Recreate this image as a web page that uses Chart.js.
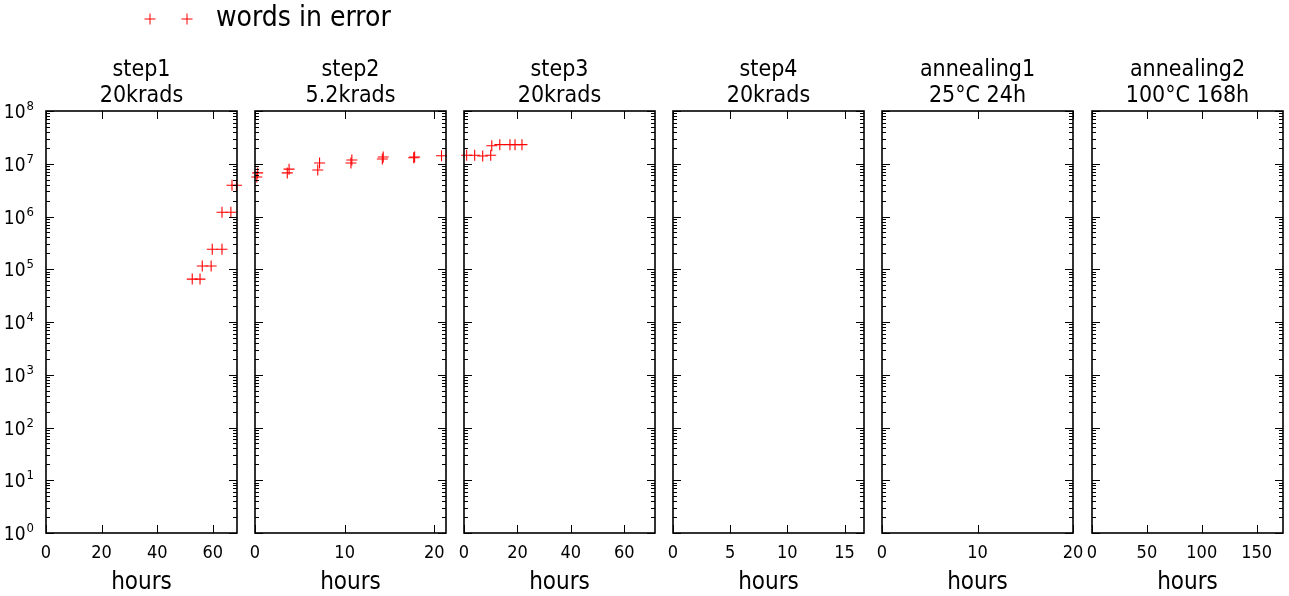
<!DOCTYPE html>
<html>
<head>
<meta charset="utf-8">
<script src="https://cdn.jsdelivr.net/npm/chart.js@4.4.1/dist/chart.umd.min.js"></script>
<style>
html, body { margin: 0; padding: 0; background: #fff; }
#wrap { position: relative; width: 1289px; height: 596px; overflow: hidden; }
#wrap canvas { position: absolute; top: 0; }
</style>
</head>
<body>
<div id="wrap"></div>
<script>
// panel headings and axes
const panelTitles = [
    ['step1', '20krads'],
    ['step2', '5.2krads'],
    ['step3', '20krads'],
    ['step4', '20krads'],
    ['annealing1', '25°C 24h'],
    ['annealing2', '100°C 168h']
];
const xMax = [68.7, 21.3, 71.5, 16.7, 20, 174];
const xTicks = [[0, 20, 40, 60], [0, 10, 20], [0, 20, 40, 60], [0, 5, 10, 15], [0, 10, 20], [0, 50, 100, 150]];
const yDecades = [1, 10, 100, 1e3, 1e4, 1e5, 1e6, 1e7, 1e8];
const legendLabel = 'words in error';
const xLabel = 'hours';

// words in error vs hours, one pair of arrays per step
const step1Hours = [52.6, 55.4, 56.2, 59.4, 59.8, 63.3, 63.3, 66.5, 66.9, 68.5];
const step1Words = [6.5e4, 6.5e4, 1.15e5, 1.15e5, 2.4e5, 2.4e5, 1.2e6, 1.2e6, 3.9e6, 3.9e6];
const step2Hours = [0.3, 0.2, 3.8, 3.6, 7.2, 7.0, 10.8, 10.7, 14.3, 14.2, 17.8, 17.7, 20.8];
const step2Words = [6.7e6, 5.6e6, 7.9e6, 6.7e6, 1.03e7, 7.6e6, 1.18e7, 1.03e7, 1.34e7, 1.23e7, 1.34e7, 1.3e7, 1.42e7];
const step3Hours = [1.0, 4.0, 7.0, 10.0, 10.4, 13.4, 17.2, 19.1, 21.7];
const step3Words = [1.45e7, 1.45e7, 1.4e7, 1.45e7, 2.2e7, 2.3e7, 2.3e7, 2.3e7, 2.3e7];
const step4Hours = [];
const step4Words = [];
const anneal1Hours = [];
const anneal1Words = [];
const anneal2Hours = [];
const anneal2Words = [];

const panelHours = [step1Hours, step2Hours, step3Hours, step4Hours, anneal1Hours, anneal2Hours];
const panelWords = [step1Words, step2Words, step3Words, step4Words, anneal1Words, anneal2Words];

const FONT = "'DejaVu Sans Condensed', 'DejaVu Sans', sans-serif";
const RED = '#ff0000';
const PLOT_W = 191, LEFT_M = 46, TOP_M = 111, BOTTOM_M = 63, PANEL_STEP = 209.1;

function drawCross(ctx, x, y, r) {
    ctx.beginPath();
    ctx.moveTo(x - r, y); ctx.lineTo(x + r, y);
    ctx.moveTo(x, y - r); ctx.lineTo(x, y + r);
    ctx.stroke();
}

// box, inward ticks, decade labels and the two-line heading
const framePlugin = {
    id: 'frame',
    afterDatasetsDraw(chart, args, opts) {
        const ctx = chart.ctx;
        const a = chart.chartArea;
        const xs = chart.scales.x, ys = chart.scales.y;
        ctx.save();
        ctx.strokeStyle = '#000';
        ctx.lineWidth = 1;
        xTicks[opts.index].forEach(function(v) {
            const px = Math.round(xs.getPixelForValue(v)) + 0.5;
            ctx.beginPath();
            ctx.moveTo(px, a.bottom); ctx.lineTo(px, a.bottom - 8);
            ctx.moveTo(px, a.top); ctx.lineTo(px, a.top + 8);
            ctx.stroke();
        });
        yDecades.forEach(function(d, i) {
            const py = Math.round(ys.getPixelForValue(d)) + 0.5;
            ctx.beginPath();
            ctx.moveTo(a.left, py); ctx.lineTo(a.left + 8, py);
            ctx.moveTo(a.right, py); ctx.lineTo(a.right - 8, py);
            ctx.stroke();
            if (i === yDecades.length - 1) return;
            for (let m = 2; m <= 9; m++) {
                const my = Math.round(ys.getPixelForValue(d * m)) + 0.5;
                ctx.beginPath();
                ctx.moveTo(a.left, my); ctx.lineTo(a.left + 4, my);
                ctx.moveTo(a.right, my); ctx.lineTo(a.right - 4, my);
                ctx.stroke();
            }
        });
        ctx.lineWidth = 1.6;
        ctx.strokeRect(a.left, a.top, a.right - a.left, a.bottom - a.top);

        ctx.fillStyle = '#000';

        if (opts.index === 0) {
            // 10^n labels, exponent raised and smaller
            yDecades.forEach(function(d) {
                const py = ys.getPixelForValue(d);
                const exp = String(Math.round(Math.log10(d)));
                ctx.font = '13px ' + FONT;
                ctx.textAlign = 'right';
                ctx.textBaseline = 'alphabetic';
                ctx.fillText(exp, 34, py - 1);
                const ew = ctx.measureText(exp).width;
                ctx.font = '19px ' + FONT;
                ctx.fillText('10', 34 - ew - 1, py + 7);
            });
        }

        ctx.font = '23px ' + FONT;
        ctx.textAlign = 'center';
        ctx.textBaseline = 'alphabetic';
        const cx = (a.left + a.right) / 2;
        ctx.fillText(panelTitles[opts.index][0], cx, 76);
        ctx.fillText(panelTitles[opts.index][1], cx, 102);

        if (opts.index === 0) {
            ctx.strokeStyle = RED;
            ctx.lineWidth = 1;
            drawCross(ctx, 150, 19, 5.5);
            drawCross(ctx, 187, 19, 5.5);
            ctx.font = '28px ' + FONT;
            ctx.textAlign = 'left';
            ctx.textBaseline = 'middle';
            ctx.fillText(legendLabel, 216, 19);
        }
        ctx.restore();
    }
};

const wrap = document.getElementById('wrap');

panelTitles.forEach(function(t, i) {
    const canvas = document.createElement('canvas');
    const w = i === 0 ? 420 : 270;
    canvas.width = w;
    canvas.height = 596;
    canvas.style.left = Math.round(PANEL_STEP * i) + 'px';
    wrap.appendChild(canvas);

    const points = panelHours[i].map(function(h, k) { return { x: h, y: panelWords[i][k] }; });

    new Chart(canvas.getContext('2d'), {
        type: 'scatter',
        data: {
            datasets: [{
                label: legendLabel,
                data: points,
                pointStyle: 'cross',
                pointRadius: 5.5,
                pointHoverRadius: 5.5,
                borderColor: RED,
                backgroundColor: RED,
                borderWidth: 1.1,
                clip: false
            }]
        },
        plugins: [framePlugin],
        options: {
            responsive: false,
            devicePixelRatio: 1,
            animation: false,
            events: [],
            layout: { padding: { top: TOP_M, right: w - LEFT_M - PLOT_W, left: 0, bottom: 0 } },
            plugins: {
                legend: { display: false },
                tooltip: { enabled: false },
                frame: { index: i }
            },
            scales: {
                x: {
                    type: 'linear',
                    min: 0,
                    max: xMax[i],
                    grid: { display: false, drawTicks: false },
                    border: { display: false },
                    afterBuildTicks: function(scale) {
                        scale.ticks = xTicks[i].map(function(v) { return { value: v }; });
                    },
                    afterFit: function(scale) { scale.height = BOTTOM_M; },
                    ticks: {
                        color: '#000',
                        padding: 10,
                        maxRotation: 0,
                        font: { family: FONT, size: 18 },
                        callback: function(v) { return String(v); }
                    },
                    title: {
                        display: true,
                        text: xLabel,
                        color: '#000',
                        font: { family: FONT, size: 24 },
                        padding: { top: 0, bottom: -1 }
                    }
                },
                y: {
                    type: 'logarithmic',
                    min: 1,
                    max: 1e8,
                    grid: { display: false, drawTicks: false },
                    border: { display: false },
                    afterBuildTicks: function(scale) {
                        scale.ticks = yDecades.map(function(v) { return { value: v }; });
                    },
                    afterFit: function(scale) { scale.width = LEFT_M; },
                    ticks: { display: false }
                }
            }
        }
    });
});
</script>
</body>
</html>
